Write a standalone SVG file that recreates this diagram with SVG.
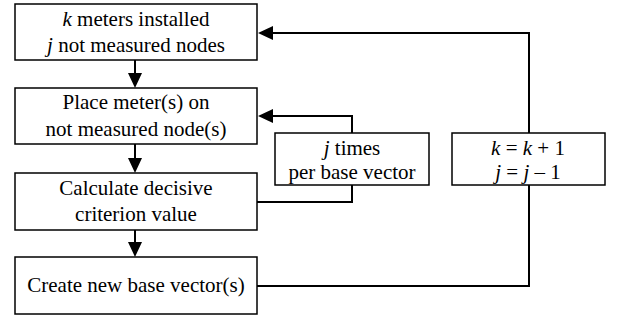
<svg xmlns="http://www.w3.org/2000/svg" width="617" height="320" viewBox="0 0 617 320">
<defs>
<style>
.box{fill:#fff;stroke:#000;stroke-width:1.5}
.ln{fill:none;stroke:#000;stroke-width:2}
.ah{fill:#000}
text{font-family:"Liberation Serif","Times New Roman",serif;font-size:21px;fill:#000;text-anchor:middle}
.i{font-style:italic}
</style>
</defs>
<g id="connectors">
<line class="ln" x1="135" y1="60" x2="135" y2="74"/>
<path class="ah" d="M128,73 L142,73 L135,88 z"/>
<line class="ln" x1="135" y1="144" x2="135" y2="159"/>
<path class="ah" d="M128,158 L142,158 L135,173 z"/>
<line class="ln" x1="135" y1="230" x2="135" y2="243"/>
<path class="ah" d="M128,242 L142,242 L135,257 z"/>
<polyline class="ln" points="257,286 529,286 529,33 272,33"/>
<path class="ah" d="M273,26 L273,40 L258,33 z"/>
<polyline class="ln" points="257,202 352,202 352,116 272,116"/>
<path class="ah" d="M273,109 L273,123 L258,116 z"/>
</g>
<g id="n1"><rect class="box" x="15" y="4" width="242" height="56"/>
<text x="136" y="26"><tspan class="i">k</tspan> meters installed</text>
<text x="136" y="52"><tspan class="i">j</tspan> not measured nodes</text></g>
<g id="n2"><rect class="box" x="15" y="88" width="242" height="56"/>
<text x="136" y="109">Place meter(s) on</text>
<text x="136" y="136">not measured node(s)</text></g>
<g id="n3"><rect class="box" x="15" y="173" width="242" height="57"/>
<text x="136" y="195">Calculate decisive</text>
<text x="136" y="221">criterion value</text></g>
<g id="n4"><rect class="box" x="15" y="257" width="242" height="57"/>
<text x="136" y="292">Create new base vector(s)</text></g>
<g id="n5"><rect class="box" x="275" y="133" width="154" height="52"/>
<text x="352" y="155"><tspan class="i">j</tspan> times</text>
<text x="352" y="179">per base vector</text></g>
<g id="n6"><rect class="box" x="452" y="133" width="153" height="52"/>
<text x="528" y="155"><tspan class="i">k</tspan> = <tspan class="i">k</tspan> + 1</text>
<text x="528" y="179"><tspan class="i">j</tspan> = <tspan class="i">j</tspan> – 1</text></g>
</svg>
